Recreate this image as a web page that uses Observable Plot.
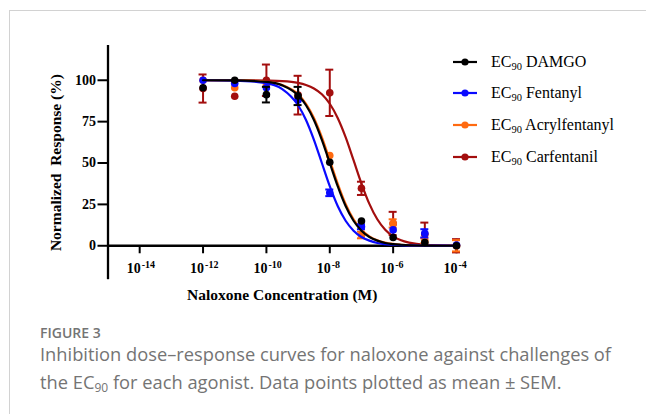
<!DOCTYPE html>
<html>
<head>
<meta charset="utf-8">
<script src="https://cdn.jsdelivr.net/npm/d3@7"></script>
<script src="https://cdn.jsdelivr.net/npm/@observablehq/plot@0.6"></script>
<style>
  html, body { margin: 0; padding: 0; background: #fff; }
  #wrap { position: relative; width: 646px; height: 414px; overflow: hidden; background: #fff; }
  #border { position: absolute; left: 9px; top: 10px; width: 800px; height: 600px;
            border-top: 1.5px solid #d2d2d2; border-left: 1.5px solid #d2d2d2; }
  #chart { position: absolute; left: 0; top: 0; }
  #chart svg text { white-space: pre; }
  #legend { position: absolute; left: 0; top: 0; font-family: "Liberation Serif", "Times New Roman", serif;
            font-size: 16px; color: #000; }
  .row { position: absolute; left: 452px; height: 20px; display: flex; align-items: center; white-space: nowrap; }
  .row svg { margin-right: 13px; }
  .row sub { font-size: 10.5px; vertical-align: -3px; line-height: 0; }
  #caption { position: absolute; left: 40px; top: 0; font-family: "Open Sans", Lato, sans-serif; color: #747474; }
  #figlabel { position: absolute; left: 0; top: 323px; font-size: 14px; font-weight: 600; white-space: nowrap; }
  #figtext { position: absolute; left: 0; top: 340px; width: 600px; font-size: 18.3px; font-weight: 400; line-height: 28px; white-space: nowrap; }
  #figtext sub { font-size: 12px; vertical-align: -3px; line-height: 0; }
</style>
</head>
<body>
<div id="wrap">
  <div id="border"></div>
  <div id="chart"></div>
  <div id="legend"></div>
  <div id="caption">
    <div id="figlabel">FIGURE 3</div>
    <div id="figtext">Inhibition dose–response curves for naloxone against challenges of<br>the EC<sub>90</sub> for each agonist. Data points plotted as mean ± SEM.</div>
  </div>
</div>
<script>
// ---- axis data ----
const xDomain = [-15, -4];           // log10 [Naloxone] (M)
const yDomain = [-20.5, 121];
const yTicks = [0, 25, 50, 75, 100];
const yTickLabels = ["0", "25", "50", "75", "100"];
const xTicks = [-14, -12, -10, -8, -6, -4];
const xTickExp = ["-14", "-12", "-10", "-8", "-6", "-4"];
const xTitle = "Naloxone Concentration (M)";
const yTitle = "Normalized  Response (%)";

// ---- measured points (log10 M) ----
const logConc = [-12, -11, -10, -9, -8, -7, -6, -5, -4];

const damgoMean = [95.5, 100, 91.3, 90.5, 50.5, 15, 5, 2, 0];
const damgoSem  = [0, 0, 4.7, 5.5, 0, 0, 0, 0, 0];

const fentMean = [100, 98, 95.5, 88, 32, 11.5, 9.6, 7.5, 0.5];
const fentSem  = [0, 0, 0, 0, 2, 1.5, 0, 2.5, 0];

const acrylMean = [100, 95.5, 97, 90, 54.5, 6.5, 13.5, 3, 0];
const acrylSem  = [0, 0, 0, 0, 0, 2, 2.5, 1.5, 3.4];

const carfMean = [95, 90.3, 100, 91, 92.4, 34.7, 13.5, 7, 0];
const carfSem  = [8.5, 0, 9.5, 11.7, 14, 4, 7, 7, 4];

// ---- fitted curves ----
const curveX = [-12, -11, -10, -9.5, -9, -8.75, -8.5, -8.25, -8, -7.75, -7.5, -7.25, -7, -6.75, -6.5, -6.25, -6, -5.75, -5.5, -5, -4];
const damgoCurve = [100, 99.9, 99.0, 96.9, 90.9, 84.9, 76.0, 64.0, 50.0, 36.0, 24.0, 15.1, 9.1, 5.3, 3.1, 1.7, 1.0, 0.6, 0.3, 0.1, 0];
const fentCurve  = [100, 99.8, 98.3, 94.7, 84.9, 76.0, 64.0, 50.0, 36.0, 24.0, 15.1, 9.1, 5.3, 3.1, 1.7, 1.0, 0.6, 0.3, 0.2, 0.1, 0];
const acrylCurve = [100, 99.9, 99.1, 97.1, 91.5, 85.8, 77.2, 65.6, 51.7, 37.6, 25.3, 16.0, 9.7, 5.7, 3.3, 1.9, 1.1, 0.6, 0.3, 0.1, 0];
const carfCurve  = [100, 100, 99.8, 99.5, 98.4, 97.1, 95.0, 91.5, 85.8, 77.2, 65.6, 51.7, 37.6, 25.3, 16.0, 9.7, 5.7, 3.3, 1.9, 0.6, 0.1];

// ---- series (legend order) ----
const seriesNames  = ["DAMGO", "Fentanyl", "Acrylfentanyl", "Carfentanil"];
const seriesColors = ["#000000", "#0a0aff", "#ff6a10", "#a30e0e"];
const seriesMeans  = [damgoMean, fentMean, acrylMean, carfMean];
const seriesSems   = [damgoSem, fentSem, acrylSem, carfSem];
const seriesCurves = [damgoCurve, fentCurve, acrylCurve, carfCurve];
const drawOrder = [3, 2, 1, 0]; // carfentanil first, DAMGO on top

const marks = [];
for (const s of drawOrder) {
  const color = seriesColors[s];
  const pts = logConc.map((x, i) => ({x, y: seriesMeans[s][i], sem: seriesSems[s][i]}));
  const bars = pts.filter(d => d.sem > 0);
  const curve = curveX.map((x, i) => ({x, y: seriesCurves[s][i]}));
  marks.push(
    Plot.line(curve, {x: "x", y: "y", stroke: color, strokeWidth: 2.2, curve: "monotone-x"}),
    Plot.ruleX(bars, {x: "x", y1: d => d.y - d.sem, y2: d => d.y + d.sem, stroke: color, strokeWidth: 2}),
    Plot.ruleY(bars, {y: d => d.y + d.sem, x1: "x", x2: "x", insetLeft: -4, insetRight: -4, stroke: color, strokeWidth: 2}),
    Plot.ruleY(bars, {y: d => d.y - d.sem, x1: "x", x2: "x", insetLeft: -4, insetRight: -4, stroke: color, strokeWidth: 2}),
    Plot.dot(pts, {x: "x", y: "y", fill: color, r: 3.8, stroke: "none"})
  );
}

const height = 312;
const chart = Plot.plot({
  width: 646,
  height,
  marginLeft: 107.5,
  marginRight: 190,
  marginTop: 45,
  marginBottom: height - 279.2,
  x: {domain: xDomain, axis: null},
  y: {domain: yDomain, axis: null},
  style: {fontFamily: '"Liberation Serif", "Times New Roman", serif', fontSize: "14px", fontWeight: "bold",
          color: "black", background: "transparent", overflow: "visible"},
  marks: [
    // y axis line, ticks and labels
    Plot.ruleX([xDomain[0]], {stroke: "black", strokeWidth: 2.3}),
    Plot.ruleY(yTicks, {y: d => d, x1: () => xDomain[0], x2: () => xDomain[0], insetLeft: -10, stroke: "black", strokeWidth: 2}),
    Plot.text(yTicks, {y: d => d, frameAnchor: "left", textAnchor: "end", dx: -12, text: (d, i) => yTickLabels[i], fontSize: 14, fontWeight: "bold"}),
    // x axis line, ticks and labels
    Plot.ruleY([0], {stroke: "black", strokeWidth: 2.3}),
    Plot.ruleX(xTicks, {x: d => d, y1: () => 0, y2: () => 0, insetBottom: -8, stroke: "black", strokeWidth: 2}),
    Plot.text(xTicks, {x: d => d, y: () => 0, text: () => "10", textAnchor: "end", dx: 1, dy: 23, fontSize: 14, fontWeight: "bold"}),
    Plot.text(xTicks, {x: d => d, y: () => 0, text: (d, i) => xTickExp[i], textAnchor: "start", dx: 2, dy: 19, fontSize: 10, fontWeight: "bold"}),
    Plot.text([xTitle], {text: d => d, frameAnchor: "bottom", textAnchor: "middle", dy: 20, fontSize: 15.5, fontWeight: "bold"}),
    Plot.text([yTitle], {text: d => d, frameAnchor: "left", textAnchor: "middle", rotate: -90, dx: -51.5, fontSize: 15.5, fontWeight: "bold"}),
    ...marks
  ]
});
document.getElementById("chart").appendChild(chart);

// ---- legend ----
const legend = document.getElementById("legend");
const rowCenters = [61.7, 93.3, 125, 156.7];
seriesNames.forEach((name, i) => {
  const row = document.createElement("div");
  row.className = "row";
  row.style.top = (rowCenters[i] - 10) + "px";
  const c = seriesColors[i];
  row.innerHTML = `<svg width="26" height="20"><line x1="1" x2="25" y1="10" y2="10" stroke="${c}" stroke-width="2.2"/><circle cx="13" cy="10" r="3.6" fill="${c}"/></svg><span>EC<sub>90</sub> ${name}</span>`;
  legend.appendChild(row);
});
</script>
</body>
</html>
